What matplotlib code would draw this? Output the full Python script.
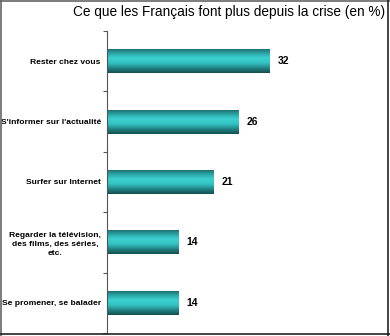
import numpy as np
import matplotlib.pyplot as plt
from matplotlib.colors import LinearSegmentedColormap
from matplotlib.lines import Line2D

plt.rcParams['font.family'] = ['Liberation Sans', 'DejaVu Sans']

# data
categories = [
    "Rester chez vous",
    "S'informer sur l'actualité",
    "Surfer sur Internet",
    "Regarder la télévision,\ndes films, des séries,\netc.",
    "Se promener, se balader",
]
values = [32, 26, 21, 14, 14]
title = "Ce que les Français font plus depuis la crise (en %)"

W, H = 390, 336
fig = plt.figure(figsize=(W / 100, H / 100), dpi=100)
ax = fig.add_axes([107 / W, 3 / H, 274 / W, 302 / H])

y = np.arange(len(categories))
bars = ax.barh(y, values, height=0.4, color="none", edgecolor="none")

# shaded bar fill (dark edges, bright centre)
cmap = LinearSegmentedColormap.from_list(
    "teal", ["#1d6666", "#2aa5a5", "#3dd0d0", "#34c2c2", "#218585", "#144f4f"])
grad = np.linspace(0, 1, 64).reshape(-1, 1)
for b in bars:
    x0, y0 = b.get_x(), b.get_y()
    w, h = b.get_width(), b.get_height()
    im = ax.imshow(grad, cmap=cmap, aspect="auto", origin="upper",
                   extent=[x0, x0 + w, y0 + h, y0], zorder=2)
    im.set_clip_path(b)

for yi, v in zip(y, values):
    ax.text(v + 1.6, yi, str(v), va="center", ha="left",
            fontsize=7.5, fontweight="bold", color="black")

ax.set_xlim(0, 54)
ax.set_ylim(len(categories) - 0.5, -0.5)

# tick marks between categories, labels at centres
ax.set_yticks(np.arange(len(categories) + 1) - 0.5)
ax.set_yticklabels([])
ax.set_yticks(y, minor=True)
ax.set_yticklabels(categories, minor=True)
ax.tick_params(axis="y", which="major", length=3, color="#555555", width=0.8)
ax.tick_params(axis="y", which="minor", length=0, pad=4.5, labelsize=6.1)
for lab in ax.get_yticklabels(minor=True):
    lab.set_fontweight("bold")
    lab.set_multialignment("center")
    lab.set_linespacing(1.35)

ax.set_xticks([])
for s in ["top", "right", "bottom"]:
    ax.spines[s].set_visible(False)
ax.spines["left"].set_color("#555555")
ax.spines["left"].set_linewidth(0.8)

fig.text(229 / W, 1 - 12 / H, title, ha="center", va="center", fontsize=9.8)

# outer frame
fig.add_artist(Line2D([0.5 / W, 0.5 / W], [0, 1], color="#666666", lw=1.2))
fig.add_artist(Line2D([0, 1], [1 - 0.5 / H, 1 - 0.5 / H], color="#666666", lw=1.2))
fig.add_artist(Line2D([1 - 2.5 / W, 1 - 2.5 / W], [0, 1], color="#222222", lw=1.2))
fig.add_artist(Line2D([0, 1], [2 / H, 2 / H], color="#222222", lw=1.2))

fig.savefig("out.png", dpi=100)
